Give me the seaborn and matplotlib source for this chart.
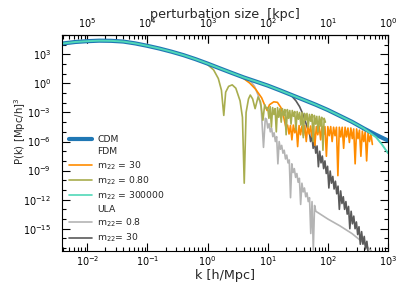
import numpy as np
import matplotlib
matplotlib.use("Agg")
import matplotlib.pyplot as plt
from matplotlib.lines import Line2D
from matplotlib.ticker import FixedLocator, LogLocator, NullLocator, NullFormatter
import seaborn as sns

# ---- data (k in h/Mpc, P in (Mpc/h)^3) ----
k_cdm = [0.0038, 0.0063, 0.01, 0.0158, 0.0251, 0.0398, 0.063, 0.1, 0.158, 0.251, 0.398, 0.631,
         1.0, 1.58, 2.51, 3.98, 6.31, 10.0, 15.8, 25.1, 39.8, 63.1, 100.0, 158.0, 251.0, 398.0, 631.0, 1000.0]
p_cdm = [1.3e4, 1.9e4, 2.3e4, 2.6e4, 2.5e4, 2.1e4, 1.35e4, 7.6e3, 4.0e3, 1.9e3, 830, 320,
         112, 37, 12.3, 4.2, 1.6, 0.60, 0.20, 0.063, 0.020, 6.3e-3, 1.8e-3, 4.5e-4, 1.1e-4, 2.2e-5, 5e-6, 1.26e-6]

# FDM m22 = 300000 (follows CDM, drops at the very end)
k_fdm3e5 = [0.0038, 0.0063, 0.01, 0.0158, 0.0251, 0.0398, 0.063, 0.1, 0.158, 0.251, 0.398, 0.631,
            1.0, 1.58, 2.51, 3.98, 6.31, 10.0, 15.8, 25.1, 39.8, 63.1, 100.0, 158.0, 251.0, 398.0, 631.0, 794.0, 1000.0]
p_fdm3e5 = [1.3e4, 1.9e4, 2.3e4, 2.6e4, 2.5e4, 2.1e4, 1.35e4, 7.6e3, 4.0e3, 1.9e3, 830, 320,
            112, 37, 12.3, 4.2, 1.6, 0.60, 0.20, 0.063, 0.020, 6.3e-3, 1.8e-3, 4.5e-4, 1.1e-4, 2.2e-5, 2.8e-6, 5e-7, 6.3e-8]

# FDM m22 = 30
k_fdm30_smooth = [2.51, 3.16, 3.98, 5.01, 6.31, 7.94, 9.12, 9.77, 10.7, 12.6, 14.5, 16.6, 18.6, 20.0]
p_fdm30_smooth = [12.3, 7.1, 3.2, 1.1, 0.25, 0.032, 4e-3, 1.6e-3, 6.3e-3, 0.0126, 0.0112, 3.2e-3, 2.5e-4, 3.2e-5]
k_fdm30_noisy = np.geomspace(21.4, 550.0, 60)
p_fdm30_noisy = [5e-5, 6e-6, 4.5e-5, 1.5e-6, 5e-5, 8e-6, 4e-5, 3e-7, 4.5e-5, 5e-6,
                 4e-5, 4e-6, 4.5e-5, 1e-6, 4e-5, 6e-6, 4e-5, 3e-6, 4e-5, 4e-7,
                 3.5e-5, 5e-6, 4e-5, 1.5e-6, 3.5e-5, 5e-6, 3.5e-5, 3e-8, 3.5e-5, 4e-6,
                 3.5e-5, 1e-6, 3e-5, 4e-6, 3e-5, 3e-10, 3e-5, 3e-6, 3e-5, 2e-7,
                 3e-5, 3e-6, 2.5e-5, 8e-7, 2.5e-5, 2e-6, 2e-5, 5e-9, 2e-5, 2e-6,
                 1.5e-5, 3e-8, 1.2e-5, 1e-6, 1e-5, 1e-8, 8e-6, 1e-6, 6e-6, 5e-7]

# FDM m22 = 0.80
k_fdm08_smooth = [0.631, 0.794, 1.0, 1.26, 1.51, 1.70, 1.86, 2.0, 2.24, 2.57, 2.95, 3.47,
                  3.80, 4.07, 4.37, 4.79, 5.13, 5.62, 6.17, 6.92, 7.59, 8.32, 8.91, 9.55]
p_fdm08_smooth = [320, 182, 89, 25, 3.2, 0.2, 5e-4, 0.126, 0.5, 0.71, 0.32, 0.016,
                  3.2e-4, 5e-11, 1e-3, 0.025, 0.063, 0.025, 2.5e-3, 0.04, 0.0126, 1.6e-4, 6.3e-3, 2.5e-3]
k_fdm08_noisy = np.geomspace(10.0, 91.0, 48)
p_fdm08_noisy = [3.2e-3, 2.5e-4, 4e-3, 3.2e-5, 3.2e-3, 6.3e-4, 2.5e-3, 1e-5, 3.2e-3, 3.2e-4,
                 2.5e-3, 1e-4, 2.5e-3, 5e-4, 2e-3, 5e-6, 2e-3, 2.5e-4, 1.6e-3, 6.3e-5,
                 1.6e-3, 4e-4, 1.26e-3, 1.6e-5, 1.26e-3, 2e-4, 1e-3, 5e-5, 1e-3, 2.5e-6,
                 8e-4, 1.6e-4, 8e-4, 3.2e-5, 6.3e-4, 1.26e-4, 6.3e-4, 1e-6, 5e-4, 6.3e-5,
                 4e-4, 1e-5, 4e-4, 4e-5, 3.2e-4, 1.26e-7, 2.5e-4, 1e-4]

# ULA m22 = 0.8
k_ula08_smooth = [3.98, 5.01, 6.03, 6.92, 7.76, 8.51, 9.12]
p_ula08_smooth = [4.2, 2.2, 0.5, 0.063, 4e-3, 2.5e-7, 2.5e-4]
k_ula08_noisy = np.geomspace(9.55, 63.1, 40)
p_ula08_noisy = [2e-4, 2.5e-5, 7e-5, 1e-5, 2.5e-5, 3.2e-6, 8e-6, 1e-6, 3.2e-6, 5e-9,
                 1e-6, 1.6e-7, 4e-7, 6.3e-8, 1.26e-7, 1.6e-8, 4e-8, 6.3e-9, 1.26e-8, 1.6e-12,
                 5e-9, 6.3e-10, 1.6e-9, 2e-10, 5e-10, 6.3e-11, 1.6e-10, 3.2e-13, 5e-11, 6.3e-12,
                 1.6e-11, 2e-12, 5e-12, 6.3e-13, 1.6e-12, 3.2e-16, 6.3e-13, 6.3e-18, 2.5e-13, 6.3e-14]
k_ula08_tail = [70.8, 100.0, 158.0, 251.0, 398.0, 562.0]
p_ula08_tail = [4e-14, 1e-14, 2e-15, 3.2e-16, 3.2e-17, 3.2e-18]

# ULA m22 = 30
k_ula30_smooth = [20.0, 25.1, 29.5, 33.9, 38.0, 41.7, 45.7]
p_ula30_smooth = [0.112, 0.05, 0.0158, 4e-3, 8e-4, 1.6e-4, 2.5e-5]
k_ula30_noisy = np.geomspace(49.0, 468.0, 46)
p_ula30_noisy = [1.26e-5, 1e-6, 4e-6, 2e-7, 1.1e-6, 6.3e-8, 3.5e-7, 2.5e-9, 1e-7, 6.3e-9,
                 3.2e-8, 1.6e-9, 1e-8, 5e-10, 2.8e-9, 1.6e-11, 9e-10, 5e-11, 2.5e-10, 1.26e-11,
                 8e-11, 4e-12, 2.5e-11, 1e-13, 8e-12, 4e-13, 2e-12, 1e-13, 6.3e-13, 3.2e-14,
                 2e-13, 1e-15, 6.3e-14, 3.2e-15, 2e-14, 1e-15, 5e-15, 2.5e-16, 1.6e-15, 2.5e-17,
                 5e-16, 2.5e-17, 1.6e-16, 8e-18, 5e-17, 3.2e-18]

y_major_ticks = [1e-15, 1e-12, 1e-9, 1e-6, 1e-3, 1e0, 1e3]

c_cdm = "#1f77b4"
c_fdm30 = "#ff8c00"
c_fdm08 = "#a8ad4e"
c_fdm3e5 = "#50d8b8"
c_ula08 = "#b4b4b4"
c_ula30 = "#5a5a5a"

sns.set_style("ticks")
plt.rcParams["axes.edgecolor"] = "black"
plt.rcParams["xtick.color"] = "black"
plt.rcParams["ytick.color"] = "black"
plt.rcParams["mathtext.default"] = "regular"

fig = plt.figure(figsize=(4.07, 2.91), dpi=100)
ax = fig.add_axes([62 / 407, 40 / 291, 326 / 407, 216 / 291])
ax.set_xscale("log")
ax.set_yscale("log")

def draw(k, p, color, lw):
    sns.lineplot(x=np.asarray(k), y=np.asarray(p), ax=ax, color=color, linewidth=lw,
                 estimator=None, sort=False, legend=False)

draw(k_ula08_smooth + list(k_ula08_noisy) + k_ula08_tail,
     p_ula08_smooth + p_ula08_noisy + p_ula08_tail, c_ula08, 1.2)
draw(k_ula30_smooth + list(k_ula30_noisy), p_ula30_smooth + p_ula30_noisy, c_ula30, 1.2)
draw(k_fdm30_smooth + list(k_fdm30_noisy), p_fdm30_smooth + p_fdm30_noisy, c_fdm30, 1.2)
draw(k_fdm08_smooth + list(k_fdm08_noisy), p_fdm08_smooth + p_fdm08_noisy, c_fdm08, 1.2)
draw(k_cdm, p_cdm, c_cdm, 3.0)
draw(k_fdm3e5, p_fdm3e5, c_fdm3e5, 1.4)

ax.set_xlim(0.0038, 1000)
ax.set_ylim(5e-18, 1e5)
ax.yaxis.set_major_locator(FixedLocator(y_major_ticks))
ax.yaxis.set_minor_locator(LogLocator(base=10.0, subs=(1.0,), numticks=40))
ax.yaxis.set_minor_formatter(NullFormatter())

ax.tick_params(which="both", direction="in", top=True, right=True, width=0.8, labelsize=6.9)
ax.tick_params(which="major", length=5.5)
ax.tick_params(which="minor", length=3)
ax.tick_params(axis="x", pad=2)
ax.tick_params(axis="y", pad=8)

ax.set_xlabel("k [h/Mpc]", fontsize=9.2, labelpad=1)
ax.set_ylabel("P(k) [Mpc/h]$^3$", fontsize=7.3)
ax.yaxis.set_label_coords(-0.104, 0.556)

def k_to_kpc(x):
    x = np.asarray(x, dtype=float)
    with np.errstate(divide="ignore"):
        return 1000.0 / x

secax = ax.secondary_xaxis("top", functions=(k_to_kpc, k_to_kpc))
secax.tick_params(which="both", direction="in", length=5.5, width=0.8, pad=3.5, labelsize=6.9)
secax.xaxis.set_minor_locator(NullLocator())
secax.set_xlabel("perturbation size  [kpc]", fontsize=9.2, labelpad=-1)

handles = [
    Line2D([], [], color=c_cdm, lw=3.0),
    Line2D([], [], color="none"),
    Line2D([], [], color=c_fdm30, lw=1.2),
    Line2D([], [], color=c_fdm08, lw=1.2),
    Line2D([], [], color=c_fdm3e5, lw=1.2),
    Line2D([], [], color="none"),
    Line2D([], [], color=c_ula08, lw=1.2),
    Line2D([], [], color=c_ula30, lw=1.2),
]
labels = ["CDM", "FDM", "m$_{22}$ = 30", "m$_{22}$ = 0.80", "m$_{22}$ = 300000",
          "ULA", "m$_{22}$= 0.8", "m$_{22}$= 30"]
ax.legend(handles, labels, loc="lower left", frameon=False, fontsize=6.7,
          handlelength=2.5, handletextpad=0.6, labelspacing=0.3, borderaxespad=0.3)

fig.savefig("out.png", dpi=100)
